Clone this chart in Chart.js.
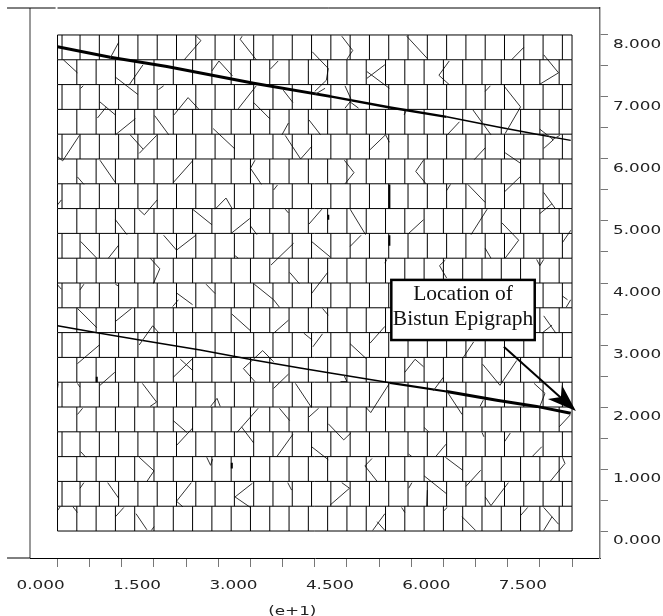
<!DOCTYPE html>
<html>
<head>
<meta charset="utf-8">
<script src="https://cdn.jsdelivr.net/npm/chart.js@4"></script>
<style>
  html, body { margin: 0; padding: 0; background: #fff; }
  canvas { display: block; }
</style>
</head>
<body>
<canvas id="jointChart" width="663" height="616"></canvas>
<script>
// axis ticks
const xTickValues = [0, 0.5, 1, 1.5, 2, 2.5, 3, 3.5, 4, 4.5, 5, 5.5, 6, 6.5, 7, 7.5, 8];
const xTickLabels = ['0.000', '', '', '1.500', '', '', '3.000', '', '', '4.500', '', '', '6.000', '', '', '7.500', ''];
const yTickValues = [0, 0.5, 1, 1.5, 2, 2.5, 3, 3.5, 4, 4.5, 5, 5.5, 6, 6.5, 7, 7.5, 8];
const yTickLabels = ['0.000', '', '1.000', '', '2.000', '', '3.000', '', '4.000', '', '5.000', '', '6.000', '', '7.000', '', '8.000'];

// block pattern: bedding rows and the two staggered joint sets
const rowY = [0, 0.4, 0.8, 1.2, 1.6, 2, 2.4, 2.8, 3.2, 3.6, 4, 4.4, 4.8, 5.2, 5.6, 6, 6.4, 6.8, 7.2, 7.6, 8];
const edgeX = [0, 8];
const evenJointX = [0.3, 0.6, 0.9, 1.2, 1.5, 1.8, 2.1, 2.4, 2.7, 3, 3.3, 3.6, 3.9, 4.2, 4.5, 4.8, 5.1, 5.4, 5.7, 6, 6.3, 6.6, 6.9, 7.2, 7.5, 7.8];
const oddJointX = [0.07, 0.35, 0.65, 0.95, 1.25, 1.55, 1.85, 2.15, 2.45, 2.75, 3.05, 3.35, 3.65, 3.95, 4.25, 4.55, 4.85, 5.15, 5.45, 5.75, 6.05, 6.35, 6.65, 6.95, 7.25, 7.55, 7.85];

const upperFaultHeavy = [[0, 7.81], [0.82, 7.64], [1.7, 7.49], [3.05, 7.22], [4.24, 7.01]];
const upperFaultMid = [[4.24, 7.01], [5.17, 6.83], [6.05, 6.68]];
const upperFaultLight = [[6.05, 6.68], [6.83, 6.52], [7.45, 6.4], [7.98, 6.3]];
const lowerFaultLight = [[0, 3.31], [0.66, 3.19], [1.28, 3.08], [2.22, 2.92], [3.05, 2.76], [3.77, 2.63], [4.24, 2.55], [5.17, 2.39]];
const lowerFaultMid = [[5.17, 2.39], [6.05, 2.25]];
const lowerFaultHeavy = [[6.05, 2.25], [6.83, 2.11], [7.45, 2.01], [7.98, 1.9]];

// broken joint traces, each one x,y,x,y...
const tracesTopLeft = [
  [.95,7.88,.81,7.61], [2.16,7.98,2.23,7.91,1.97,7.6], [2.87,7.98,2.84,7.93,3.09,7.6],
  [3.96,7.73,4.21,7.46,4.18,7.27,4,7.09], [.09,7.6,.31,7.39], [1.33,7.52,1.11,7.19], [.9,7.32,1.25,7.04],
  [2.4,7.42,2.51,7.58,2.72,7.34], [3.43,7.58,3.31,7.45], [.4,7.18,.36,7.14], [1.65,7.18,1.57,7.12],
  [3.09,7.18,2.81,6.81], [3.51,7.11,3.66,6.91], [.66,6.92,.9,6.71], [.76,6.84,.62,6.66],
  [1.81,6.71,2.03,6.99,2.2,6.8], [3.05,6.91,3.3,6.65], [4.16,7.14,4,7.04], [1.21,6.65,.9,6.39],
  [1.51,6.7,1.73,6.39], [3.59,6.58,3.49,6.39], [3.91,6.63,4.09,6.39], [0,6.04,.08,5.97,.34,6.38],
  [1.13,6.39,1.33,6.16], [1.54,6.38,1.27,6.09], [2.42,6.49,2.76,6.16], [3.54,6.38,3.78,6,3.95,6.2],
  [.66,5.98,.9,5.62], [.31,5.71,.41,5.59], [2.1,5.97,1.8,5.62], [3.07,5.98,3,5.85,3.17,5.59],
  [3.42,5.58,3.36,5.5], [0,5.26,.06,5.34], [1.26,5.19,1.35,5.1,1.55,5.34], [2.45,5.19,2.62,5.37,2.72,5.19],
  [2.1,5.19,2.4,4.94], [.9,5.02,1.08,4.78], [2.99,5.04,2.7,4.8], [3,4.92,3.1,4.78], [3.54,5.19,3.59,5.13],
  [4.11,5.19,3.91,4.95], [1.65,4.77,1.85,4.53,2.15,4.77], [.36,4.67,.61,4.4], [.95,4.61,.79,4.4],
  [3.67,4.64,3.32,4.29], [3.95,4.67,4.24,4.42], [1.44,4.4,1.59,4.23,1.49,3.99], [2.76,4.44,2.81,4.4],
  [3.61,4.17,3.76,3.99], [4.2,4.17,3.95,3.83], [0,3.97,.06,3.9], [.41,3.98,.35,3.89], [.9,3.98,.95,3.95],
  [1.85,3.84,2.1,3.65], [2.31,3.98,2.45,3.83], [3.06,3.98,3.36,3.73,3.45,3.61]
];
const tracesBottomLeft = [
  [.31,3.59,.61,3.28], [1.15,3.59,.9,3.38], [1.79,3.62,1.88,3.73], [4.12,3.59,4.21,3.48], [2.71,3.5,3,3.23],
  [3.59,3.4,3.36,3.19], [3.83,3.19,3.96,3.08], [4.12,3.18,3.97,2.97], [1.27,3,1.48,3.31,1.58,3.19],
  [.65,3,.31,2.7], [3.36,2.73,3.19,2.91,2.89,2.62,3.07,2.41], [1.8,2.48,2.1,2.78], [1.91,2.77,2.1,2.59],
  [.89,2.56,.66,2.35], [.01,2.38,0,2.3], [.31,2.38,.35,2.32], [1.32,2.38,1.54,2.08,1.44,2.01],
  [2.38,2.01,2.48,2.14,2.53,2.01], [3.59,2.53,3.36,2.3], [3.7,2.38,3.95,1.99], [4.06,1.98,3.91,1.84],
  [.39,1.98,.31,1.88], [1.8,1.78,2.01,1.59], [2.1,1.66,1.85,1.38], [3.12,1.98,2.79,1.59], [3.45,1.98,3.61,1.78],
  [2.86,1.68,3.05,1.42], [3.66,1.56,3.41,1.2], [4.21,1.73,4.45,1.47,4.56,1.58], [.36,1.28,.44,1.19],
  [3.95,1.36,4.21,1.15], [1.27,1.19,1.5,.97,1.39,.8], [2.32,1.19,2.38,1.06,2.41,1.16], [.41,.78,.35,.69],
  [.78,.78,.95,.53], [2.08,.78,1.85,.48,1.95,.39], [3.03,.77,2.76,.55,3,.38], [3.58,.78,3.64,.66],
  [0,.33,.04,.39], [.24,.39,.31,.3], [1.03,.38,.9,.23], [1.22,.28,1.39,.02], [1.5,.07,1.46,.01]
];
const tracesTopRight = [
  [4.42,7.98,4.59,7.75,4.5,7.61], [5.43,7.98,5.75,7.62], [7.25,7.8,7.06,7.6], [5.09,7.52,4.81,7.3],
  [4.81,7.41,5.16,7.14], [6.09,7.58,5.93,7.35,6.09,7.2], [7.56,7.68,7.79,7.39,7.49,7.2], [6.73,7.18,6.65,7.09],
  [6.94,7.18,7.2,6.84,6.96,6.41], [4.47,7.18,4.57,6.95,4.47,6.82], [4.55,6.92,4.68,6.82], [6.25,6.6,6.06,6.39],
  [6.46,6.79,6.74,6.39], [5.42,6.78,5.39,6.71], [7.5,6.48,7.71,6.31,7.56,6.17], [7.69,6.31,7.81,6.38],
  [4.86,6.15,5.1,6.39,5.16,6.27], [6.65,6.18,6.48,5.99], [6.96,6.1,7.2,5.93], [4.46,5.98,4.61,5.78,4.47,5.6],
  [5.69,5.98,5.57,5.8,5.73,5.6], [7.2,5.72,6.95,5.47], [6.11,5.59,6.05,5.49], [6.38,5.59,6.65,5.3],
  [7.56,5.46,7.74,5.2], [7.69,5.28,7.5,5.12], [4.55,5.19,4.79,4.78], [5.69,5.02,5.46,4.8], [6.68,5.19,6.43,4.78],
  [6.91,4.97,7.17,4.69,6.96,4.4], [7.98,4.85,7.85,4.65], [4.72,4.77,4.55,4.59], [6.65,4.56,6.74,4.4],
  [5.12,4.38,5.09,4.32], [6.03,4.37,5.94,4.28,6.05,4.08], [7.45,4.38,7.5,4.28,7.56,4.38], [7.85,3.79,7.93,3.73],
  [7.98,3.73,7.91,3.61]
];
const tracesBottomRight = [
  [4.55,3.02,4.8,2.78], [5.09,3.3,4.86,3.03], [7.56,3.47,7.75,3.19], [7.69,3.32,7.53,3.19], [6.47,3.05,6.31,2.8],
  [5.4,2.56,5.56,2.77,5.69,2.65], [6,2.48,5.84,2.26], [6.61,2.69,6.88,2.35,7.14,2.75], [4.45,2.52,4.5,2.41,4.4,2.41],
  [5.16,2.38,4.87,1.91,4.8,1.99], [7.41,2.38,7.58,2.22,7.5,2.01], [6.05,2.26,6.29,1.88], [6.62,2.11,6.57,2.01],
  [7.97,1.87,7.8,1.68], [7.04,1.58,6.95,1.44], [5.7,1.67,5.78,1.59], [6.6,1.59,6.63,1.52], [6.04,1.4,5.88,1.2],
  [7.53,1.36,7.38,1.2], [5.46,1.24,5.51,1.2], [4.89,1.17,4.78,1.05,4.97,.8], [6.03,1.19,6.3,.98], [6.58,.98,6.35,.72],
  [7.85,1.19,7.89,1.09,7.66,.8], [5.7,.89,6.05,.6], [5.75,.66,5.74,.4], [5.51,.78,5.46,.69],
  [7.01,.78,6.74,.41,6.65,.55], [4.42,.78,4.54,.69,4.24,.42], [5.09,.28,4.9,.01], [4.97,.15,5.09,.01],
  [5.35,.38,5.4,.3], [6.06,.38,6.01,.33], [6.29,.23,6.5,.01], [7.31,.38,7.2,.25], [7.56,.38,7.79,.11], [7.69,.23,7.56,.01]
];
const boldTraces = [
  [4.21,5.1,4.21,5.02], [2.71,1.1,2.71,1.01], [.61,2.49,.61,2.4], [5.16,5.59,5.16,5.2], [5.16,4.77,5.16,4.6]
];

// annotation, in axis units
const noteLines = ['Location of', 'Bistun Epigraph'];
const noteBox = { left: 5.19, right: 7.42, top: 4.05, bottom: 3.08 };
const arrowTail = [6.94, 2.97];
const arrowTip = [8.06, 1.935];

const X_MIN = -0.428, X_MAX = 8.435, Y_MIN = -0.435, Y_MAX = 8.435;
const LABEL_STRETCH = 1.4;

// NaN points break the line between pieces
function joinPieces(pieces) {
  const out = [];
  pieces.forEach((p) => {
    p.forEach((pt) => out.push({ x: pt[0], y: pt[1] }));
    out.push({ x: NaN, y: NaN });
  });
  return out;
}

function flatToPieces(list) {
  return list.map((flat) => {
    const p = [];
    for (let i = 0; i < flat.length; i += 2) p.push([flat[i], flat[i + 1]]);
    return p;
  });
}

function blockPieces() {
  const pieces = rowY.map((y) => [[0, y], [8, y]]);
  for (let i = 0; i < rowY.length - 1; i++) {
    const xs = (i % 2 === 0 ? evenJointX : oddJointX).concat(edgeX);
    xs.forEach((x) => pieces.push([[x, rowY[i]], [x, rowY[i + 1]]]));
  }
  return pieces;
}

function lineSet(data, color, width, clip) {
  return {
    type: 'scatter', data: data, showLine: true, spanGaps: false,
    borderColor: color, borderWidth: width, pointRadius: 0, clip: clip
  };
}

function faultSet(points, width) {
  return lineSet(points.map((p) => ({ x: p[0], y: p[1] })), '#000', width, true);
}

// the axis text in the original is horizontally stretched
const plainFillText = CanvasRenderingContext2D.prototype.fillText;
function stretchedText(text, x, y) {
  this.save();
  this.translate(x, y);
  this.scale(LABEL_STRETCH, 1);
  plainFillText.call(this, text, 0, 0);
  this.restore();
}

const notePlugin = {
  id: 'note',
  beforeDraw(chart) {
    chart.ctx.fillText = stretchedText;
  },
  beforeDatasetsDraw(chart) {
    delete chart.ctx.fillText;
  },
  afterDatasetsDraw(chart) {
    const ctx = chart.ctx;
    const x = chart.scales.x, y = chart.scales.y;
    ctx.save();

    const bx = x.getPixelForValue(noteBox.left), by = y.getPixelForValue(noteBox.top);
    const bw = x.getPixelForValue(noteBox.right) - bx, bh = y.getPixelForValue(noteBox.bottom) - by;
    ctx.fillStyle = '#fff';
    ctx.strokeStyle = '#000';
    ctx.lineWidth = 2.5;
    ctx.fillRect(bx, by, bw, bh);
    ctx.strokeRect(bx, by, bw, bh);

    ctx.fillStyle = '#111';
    ctx.font = '21.5px "Liberation Serif"';
    ctx.textAlign = 'center';
    ctx.textBaseline = 'middle';
    ctx.fillText(noteLines[0], bx + bw / 2, by + 14);
    ctx.fillText(noteLines[1], bx + bw / 2, by + 39);

    // arrow
    const tx = x.getPixelForValue(arrowTail[0]), ty = y.getPixelForValue(arrowTail[1]);
    const hx = x.getPixelForValue(arrowTip[0]), hy = y.getPixelForValue(arrowTip[1]);
    ctx.lineWidth = 2;
    ctx.beginPath();
    ctx.moveTo(tx, ty);
    ctx.lineTo(hx - 8, hy - 7);
    ctx.stroke();
    ctx.fillStyle = '#000';
    ctx.beginPath();
    ctx.moveTo(hx, hy);
    ctx.lineTo(hx - 14, hy - 26);
    ctx.lineTo(hx - 15, hy - 14);
    ctx.lineTo(hx - 28, hy - 12);
    ctx.closePath();
    ctx.fill();

    ctx.fillStyle = '#222';
    ctx.font = '12px "DejaVu Sans"';
    stretchedText.call(ctx, '(e+1)', x.getPixelForValue(3.65), y.getPixelForValue(-1.3));
    ctx.restore();
  }
};

new Chart(document.getElementById('jointChart'), {
  type: 'scatter',
  data: {
    datasets: [
      lineSet(joinPieces(blockPieces()), '#000', 1, true),
      lineSet(joinPieces(flatToPieces(tracesTopLeft)), '#333', 1, true),
      lineSet(joinPieces(flatToPieces(tracesBottomLeft)), '#333', 1, true),
      lineSet(joinPieces(flatToPieces(tracesTopRight)), '#333', 1, true),
      lineSet(joinPieces(flatToPieces(tracesBottomRight)), '#333', 1, true),
      lineSet(joinPieces(flatToPieces(boldTraces)), '#000', 2, true),
      faultSet(upperFaultHeavy, 3),
      faultSet(upperFaultMid, 2.4),
      faultSet(upperFaultLight, 1.5),
      faultSet(lowerFaultLight, 1.5),
      faultSet(lowerFaultMid, 2.2),
      faultSet(lowerFaultHeavy, 3),
      // frame pieces the scales do not draw
      lineSet(joinPieces([
        [[-0.785, Y_MAX], [-0.03, Y_MAX]], [[0, Y_MAX], [X_MAX, Y_MAX]], [[-0.785, Y_MIN], [X_MIN, Y_MIN]]
      ]), '#000', 1, false),
      lineSet(joinPieces([[[X_MIN, Y_MIN], [X_MIN, Y_MAX]]]), '#777', 1.5, false)
    ]
  },
  plugins: [notePlugin],
  options: {
    responsive: false,
    animation: false,
    layout: { padding: { left: 30, top: 8, right: 0, bottom: 0 } },
    plugins: { legend: { display: false }, tooltip: { enabled: false }, title: { display: false } },
    scales: {
      x: {
        type: 'linear', min: X_MIN, max: X_MAX, position: 'bottom',
        afterBuildTicks: (s) => { s.ticks = xTickValues.map((v) => ({ value: v })); },
        afterFit: (s) => { s.height = 58; s.paddingLeft = 0; s.paddingRight = 0; },
        border: { color: '#000', width: 1 },
        grid: { drawOnChartArea: false, drawTicks: true, tickLength: 9, color: '#777', tickColor: '#777' },
        ticks: {
          autoSkip: false, maxRotation: 0, color: '#222', labelOffset: -17, padding: 12,
          font: { family: '"DejaVu Sans"', size: 12 },
          callback: (v, i) => xTickLabels[i]
        }
      },
      y: {
        type: 'linear', min: Y_MIN, max: Y_MAX, position: 'right',
        afterBuildTicks: (s) => { s.ticks = yTickValues.map((v) => ({ value: v })); },
        afterFit: (s) => { s.width = 63; s.paddingTop = 0; s.paddingBottom = 0; },
        border: { color: '#777', width: 1.5 },
        grid: { drawOnChartArea: false, drawTicks: true, tickLength: 8, color: '#777', tickColor: '#777' },
        ticks: {
          autoSkip: false, color: '#222', labelOffset: 10, padding: 5,
          font: { family: '"DejaVu Sans"', size: 12 },
          callback: (v, i) => yTickLabels[i]
        }
      }
    }
  }
});
</script>
</body>
</html>
